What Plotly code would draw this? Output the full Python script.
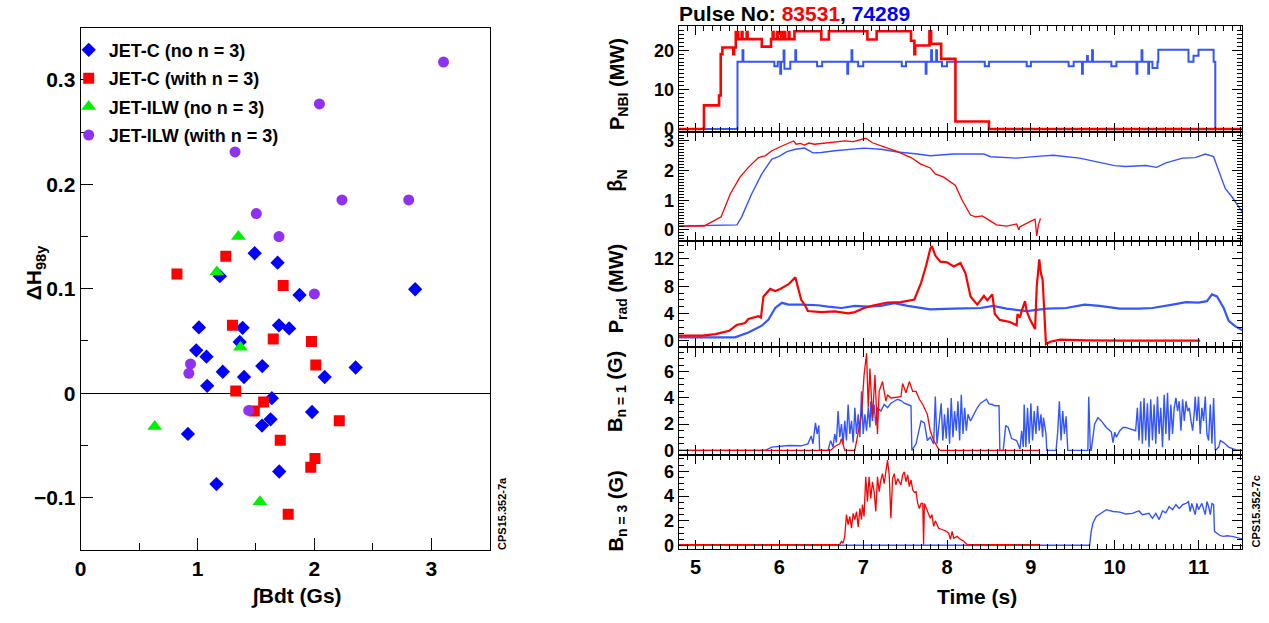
import plotly.graph_objects as go

W, H = 1269, 623

# ---------------- left panel: change of H98y against integrated field ----------------
jetc_no_x = [2.862, 1.489, 1.685, 1.873, 1.191, 1.012, 1.386, 1.697, 1.784, 1.361, 0.989, 1.077, 1.554,
             2.353, 1.216, 1.398, 2.088, 1.083, 1.636, 1.980, 1.625, 1.552, 0.918, 1.699, 1.162]
jetc_no_y = [0.0995, 0.134, 0.125, 0.094, 0.112, 0.063, 0.0626, 0.065, 0.062, 0.049, 0.041, 0.035, 0.026,
             0.0246, 0.0205, 0.0155, 0.0155, 0.007, -0.0048, -0.018, -0.025, -0.031, -0.039, -0.075, -0.087]

jetc_n3_x = [0.824, 1.242, 1.733, 1.299, 1.648, 1.975, 2.012, 1.327, 1.566, 1.486, 2.213, 1.708, 2.005, 1.969, 1.776]
jetc_n3_y = [0.114, 0.131, 0.103, 0.065, 0.052, 0.0496, 0.027, 0.002, -0.0085, -0.017, -0.0265, -0.045, -0.0626,
             -0.071, -0.116]

ilw_no_x = [1.350, 1.165, 1.367, 0.634, 1.534]
ilw_no_y = [0.150, 0.116, 0.044, -0.032, -0.104]

ilw_n3_x = [3.105, 2.043, 1.321, 2.236, 2.807, 1.503, 1.697, 2.000, 0.940, 0.926, 1.438]
ilw_n3_y = [0.317, 0.277, 0.231, 0.185, 0.185, 0.172, 0.150, 0.095, 0.028, 0.019, -0.0165]

# ---------------- right panels: time traces for pulses 83531 (red) and 74289 (blue) ----------------
# NBI power, step signals: (time, value from that time on)
nbi_83531 = [(4.80, 0.0), (5.10, 6.0), (5.28, 8.5), (5.30, 19.0), (5.32, 20.7), (5.45, 19.0), (5.46, 20.7),
             (5.48, 24.6), (5.51, 22.8), (5.55, 24.6), (5.56, 22.8), (5.61, 24.6), (5.62, 22.8), (5.79, 20.9),
             (5.90, 22.8), (5.92, 24.6), (5.93, 22.8), (5.97, 24.6), (5.98, 22.8), (6.02, 24.6), (6.03, 22.8),
             (6.06, 24.6), (6.07, 22.8), (6.11, 24.6), (6.12, 22.8), (6.18, 24.8), (6.50, 22.7), (6.59, 24.8),
             (7.05, 22.7), (7.16, 24.8), (7.57, 22.4), (7.61, 19.0), (7.62, 21.2), (7.79, 24.8), (7.81, 21.6),
             (7.93, 17.8), (8.10, 1.9), (8.50, 0.0), (11.52, 0.0)]
nbi_74289 = [(4.80, 0.0), (5.50, 17.1), (5.56, 20.0), (5.57, 17.1), (5.94, 15.9), (5.98, 17.1), (6.01, 14.0),
             (6.02, 17.1), (6.05, 19.9), (6.06, 15.3), (6.13, 17.1), (6.19, 20.0), (6.20, 17.1), (6.45, 15.9),
             (6.51, 17.1), (6.81, 14.0), (6.82, 17.1), (6.86, 20.0), (6.87, 17.1), (6.94, 15.9), (7.00, 17.1),
             (7.46, 15.9), (7.51, 17.1), (7.745, 14.0), (7.755, 17.1), (7.81, 20.0), (7.82, 17.1), (7.87, 20.0),
             (7.88, 17.1), (7.94, 15.9), (8.00, 17.1), (8.45, 15.9), (8.50, 17.1), (8.95, 15.9), (9.00, 17.1),
             (9.45, 15.9), (9.51, 17.1), (9.61, 14.0), (9.62, 17.1), (9.67, 18.5), (9.68, 17.1), (9.73, 20.0),
             (9.74, 17.1), (9.96, 15.9), (10.02, 17.1), (10.26, 14.0), (10.27, 17.1), (10.32, 20.0), (10.33, 17.1),
             (10.40, 14.0), (10.41, 17.1), (10.45, 15.5), (10.51, 17.1), (10.52, 20.1), (10.88, 17.1),
             (10.94, 18.6), (11.00, 20.1), (11.18, 17.1), (11.20, 0.0), (11.52, 0.0)]

betan_83531 = [(4.80, 0.13), (5.10, 0.13), (5.20, 0.28), (5.305, 0.44), (5.415, 1.22), (5.53, 1.78), (5.63, 2.11),
               (5.75, 2.44), (5.83, 2.50), (5.91, 2.67), (6.03, 2.83), (6.17, 3.00), (6.20, 2.89), (6.25, 2.92),
               (6.30, 2.86), (6.35, 2.93), (6.42, 2.89), (6.50, 2.91), (6.58, 2.94), (6.68, 2.97), (6.78, 3.00),
               (6.88, 2.98), (6.94, 3.02), (7.03, 3.09), (7.11, 2.94), (7.25, 2.80), (7.41, 2.64), (7.57, 2.44),
               (7.686, 2.22), (7.80, 2.09), (7.86, 1.89), (7.96, 1.78), (8.06, 1.56), (8.10, 1.50), (8.18, 1.00),
               (8.28, 0.50), (8.34, 0.44), (8.42, 0.47), (8.50, 0.33), (8.59, 0.17), (8.71, 0.13), (8.83, 0.20),
               (8.855, 0.00), (8.87, 0.11), (8.99, 0.28), (9.05, 0.36), (9.07, -0.20), (9.09, 0.17), (9.115, 0.39)]
betan_74289 = [(4.80, 0.13), (5.40, 0.15), (5.494, 0.17), (5.55, 0.44), (5.67, 1.22), (5.79, 1.89), (5.91, 2.39),
               (5.99, 2.47), (6.09, 2.64), (6.19, 2.72), (6.30, 2.76), (6.40, 2.60), (6.50, 2.61), (6.66, 2.67),
               (6.82, 2.72), (7.01, 2.76), (7.21, 2.72), (7.41, 2.63), (7.65, 2.56), (7.80, 2.50), (8.08, 2.56),
               (8.44, 2.56), (8.52, 2.47), (8.83, 2.42), (9.11, 2.49), (9.27, 2.52), (9.58, 2.42), (9.82, 2.28),
               (10.00, 2.17), (10.13, 2.14), (10.37, 2.17), (10.50, 2.11), (10.61, 2.26), (10.81, 2.42),
               (10.96, 2.44), (11.08, 2.56), (11.18, 2.47), (11.24, 2.00), (11.32, 1.39), (11.40, 1.11),
               (11.52, 0.61)]

prad_83531 = [(4.80, 0.73), (5.08, 0.73), (5.24, 0.97), (5.40, 1.45), (5.49, 2.30), (5.59, 2.60), (5.63, 3.20),
              (5.75, 3.60), (5.78, 3.40), (5.81, 6.50), (5.89, 7.60), (5.95, 7.30), (6.01, 7.60), (6.11, 8.30),
              (6.19, 9.30), (6.22, 8.00), (6.26, 6.00), (6.30, 5.30), (6.34, 4.35), (6.50, 4.20), (6.66, 4.30),
              (6.82, 4.00), (6.90, 4.20), (7.01, 4.80), (7.13, 5.20), (7.29, 5.60), (7.45, 5.66), (7.61, 6.05),
              (7.69, 8.50), (7.75, 11.0), (7.80, 13.5), (7.82, 13.9), (7.86, 12.5), (7.92, 11.6), (8.00, 11.5),
              (8.08, 10.9), (8.16, 11.4), (8.22, 9.90), (8.28, 6.50), (8.36, 5.30), (8.44, 6.60), (8.48, 5.95),
              (8.54, 6.80), (8.57, 3.90), (8.63, 3.05), (8.75, 2.75), (8.83, 2.27), (8.84, 3.90), (8.87, 3.40),
              (8.89, 4.35), (8.93, 5.80), (8.95, 4.35), (8.99, 3.10), (9.05, 1.70), (9.07, 8.00), (9.10, 11.95),
              (9.12, 9.90), (9.14, 8.95), (9.18, -0.50), (9.23, -0.15), (9.35, 0.15), (9.66, 0.05), (10.06, 0.00),
              (11.02, 0.00)]
prad_74289 = [(4.80, 0.48), (5.47, 0.48), (5.63, 1.20), (5.79, 2.20), (5.87, 3.10), (5.95, 4.80), (6.03, 5.56),
              (6.11, 5.30), (6.26, 5.30), (6.46, 5.20), (6.58, 5.00), (6.74, 4.80), (6.90, 5.10), (7.05, 5.00),
              (7.21, 5.10), (7.37, 5.50), (7.53, 5.10), (7.69, 4.80), (7.80, 4.60), (8.08, 4.70), (8.40, 4.80),
              (8.55, 5.10), (8.71, 4.70), (8.95, 4.35), (9.19, 4.70), (9.42, 4.80), (9.64, 5.30), (9.82, 5.10),
              (10.06, 4.70), (10.29, 4.70), (10.45, 4.80), (10.69, 5.30), (10.85, 5.66), (11.00, 5.60),
              (11.10, 5.80), (11.16, 6.80), (11.22, 6.50), (11.30, 4.80), (11.36, 2.90), (11.44, 2.10),
              (11.52, 1.55)]

bn1_83531 = [(4.80, 0.0), (6.61, 0.0), (6.66, 0.3), (6.72, 0.5), (6.74, 0.9), (6.78, 0.0), (6.90, 0.0), (6.94, 1.25),
             (6.98, 2.75), (7.01, 5.75), (7.04, 7.4), (7.06, 3.25), (7.08, 6.25), (7.11, 2.5), (7.14, 5.75),
             (7.17, 1.25), (7.19, 4.5), (7.23, 5.25), (7.27, 3.75), (7.29, 4.25), (7.33, 4.0), (7.45, 4.1),
             (7.47, 5.1), (7.51, 4.4), (7.55, 5.25), (7.59, 4.5), (7.63, 4.5), (7.67, 3.9), (7.71, 3.5),
             (7.765, 2.75), (7.80, 1.5), (7.84, 0.75), (7.90, 0.1), (7.92, 0.0), (9.11, 0.0)]
bn1_74289 = [(4.80, 0.0), (5.83, 0.0), (5.91, 0.25), (5.99, 0.3), (6.11, 0.37), (6.26, 0.35), (6.34, 0.5), (6.38, 1.1),
             (6.40, 0.5), (6.43, 2.1), (6.45, 1.25), (6.47, 1.9), (6.48, 0.0), (6.58, 0.0), (6.61, 0.75), (6.64, 0.25),
             (6.66, 1.25), (6.68, 0.6), (6.70, 3.0), (6.72, 1.0), (6.74, 2.0), (6.76, 0.5), (6.78, 2.25), (6.80, 0.75),
             (6.82, 3.5), (6.84, 1.25), (6.86, 2.25), (6.88, 0.6), (6.90, 3.25), (6.92, 1.25), (6.94, 2.75),
             (6.96, 1.0), (6.98, 4.5), (7.00, 1.25), (7.02, 2.75), (7.04, 1.5), (7.06, 3.25), (7.08, 1.75),
             (7.09, 3.75), (7.11, 2.25), (7.13, 3.5), (7.15, 1.9), (7.17, 3.25), (7.21, 3.0), (7.25, 3.5),
             (7.29, 3.25), (7.33, 3.6), (7.37, 3.75), (7.41, 3.9), (7.45, 3.8), (7.49, 3.6), (7.53, 3.5), (7.57, 3.4),
             (7.58, 0.0), (7.63, 0.5), (7.69, 2.25), (7.73, 2.1), (7.765, 0.75), (7.80, 1.0), (7.84, 0.5),
             (7.86, 4.1), (7.88, 0.5), (7.90, 1.75), (7.93, 3.6), (7.95, 0.75), (7.97, 2.75), (7.99, 0.9),
             (8.01, 3.25), (8.03, 0.5), (8.05, 4.0), (8.07, 1.0), (8.09, 3.0), (8.11, 1.5), (8.13, 3.75), (8.15, 0.75),
             (8.17, 4.25), (8.19, 1.25), (8.21, 3.25), (8.23, 1.5), (8.25, 2.75), (8.28, 2.25), (8.32, 2.75),
             (8.36, 3.25), (8.40, 3.6), (8.44, 3.75), (8.47, 3.9), (8.50, 3.55), (8.54, 3.5), (8.57, 3.4),
             (8.62, 3.4), (8.63, 0.0), (8.67, 0.0), (8.70, 1.9), (8.73, 1.75), (8.77, 0.9), (8.83, 0.75), (8.87, 0.1),
             (8.89, 1.5), (8.91, 0.25), (8.92, 3.5), (8.94, 0.25), (8.96, 3.25), (8.98, 0.5), (9.00, 3.6),
             (9.02, 0.75), (9.04, 3.0), (9.06, 1.25), (9.08, 3.4), (9.10, 1.5), (9.12, 2.75), (9.14, 1.0),
             (9.15, 2.5), (9.18, 1.25), (9.19, 0.0), (9.30, 0.0), (9.32, 1.4), (9.34, 3.75), (9.36, 0.75),
             (9.38, 3.0), (9.40, 1.25), (9.42, 2.6), (9.44, 0.0), (9.68, 0.0), (9.69, 4.1), (9.71, 0.0), (9.72, 0.0),
             (9.76, 2.0), (9.80, 2.5), (9.84, 2.25), (9.90, 1.75), (9.96, 1.4), (9.98, 0.6), (10.00, 1.4),
             (10.02, 1.0), (10.06, 1.5), (10.10, 1.75), (10.13, 1.75), (10.19, 1.6), (10.25, 1.5), (10.27, 3.25),
             (10.29, 0.75), (10.31, 3.75), (10.33, 0.5), (10.35, 4.0), (10.37, 0.75), (10.39, 3.6), (10.41, 0.25),
             (10.43, 3.9), (10.45, 0.75), (10.47, 3.5), (10.49, 0.5), (10.51, 4.1), (10.53, 1.25), (10.55, 3.25),
             (10.57, 0.25), (10.59, 4.25), (10.61, 1.25), (10.63, 4.4), (10.65, 0.75), (10.67, 3.5), (10.69, 1.25),
             (10.71, 3.25), (10.73, 4.0), (10.75, 3.0), (10.77, 3.75), (10.79, 1.5), (10.81, 3.9), (10.83, 2.25),
             (10.85, 3.75), (10.87, 3.0), (10.89, 3.25), (10.91, 2.25), (10.93, 1.5), (10.95, 3.0), (10.96, 4.1),
             (10.98, 2.25), (11.00, 4.1), (11.02, 1.25), (11.04, 3.25), (11.06, 2.25), (11.08, 4.1), (11.10, 1.25),
             (11.12, 0.75), (11.14, 3.5), (11.16, 0.5), (11.18, 4.0), (11.20, 0.0), (11.24, 0.25), (11.26, 0.75),
             (11.30, 0.6), (11.36, 0.25), (11.44, 0.05), (11.52, 0.0)]

bn3_83531 = [(4.80, 0.08), (6.72, 0.08), (6.74, 0.35), (6.76, 0.2), (6.78, 0.75), (6.80, 2.5), (6.82, 1.7),
             (6.84, 2.35), (6.86, 1.4), (6.88, 2.6), (6.90, 2.1), (6.92, 2.75), (6.94, 1.5), (6.96, 3.0), (6.98, 2.1),
             (6.99, 3.3), (7.01, 2.35), (7.03, 5.55), (7.05, 3.55), (7.07, 5.55), (7.09, 3.8), (7.11, 5.15),
             (7.13, 4.35), (7.15, 2.75), (7.17, 5.55), (7.19, 4.35), (7.21, 5.3), (7.23, 5.8), (7.25, 5.0),
             (7.27, 5.95), (7.29, 6.9), (7.31, 5.7), (7.33, 2.2), (7.35, 5.4), (7.37, 5.8), (7.39, 4.9), (7.41, 5.4),
             (7.43, 5.15), (7.45, 4.9), (7.47, 5.7), (7.49, 5.95), (7.51, 5.15), (7.53, 5.7), (7.55, 4.75),
             (7.57, 5.3), (7.59, 4.5), (7.61, 4.3), (7.63, 4.35), (7.65, 3.4), (7.67, 3.0), (7.69, 3.4), (7.71, 3.4),
             (7.72, 0.08), (7.73, 3.4), (7.765, 2.75), (7.80, 2.2), (7.82, 2.5), (7.84, 1.55), (7.86, 2.0),
             (7.90, 1.4), (7.94, 1.3), (7.98, 1.2), (8.02, 1.0), (8.04, 0.5), (8.06, 1.15), (8.08, 0.6), (8.12, 0.75),
             (8.16, 0.5), (8.20, 0.35), (8.24, 0.08), (9.11, 0.08)]
bn3_74289 = [(4.80, 0.03), (9.70, 0.03), (9.72, 1.15), (9.74, 1.8), (9.78, 2.35), (9.84, 2.6), (9.90, 2.9),
             (9.98, 2.75), (10.06, 2.7), (10.13, 2.55), (10.21, 2.6), (10.29, 2.8), (10.33, 2.5), (10.41, 2.6),
             (10.45, 2.2), (10.49, 2.6), (10.53, 2.1), (10.57, 2.8), (10.61, 2.65), (10.65, 3.15), (10.69, 2.9),
             (10.73, 3.3), (10.77, 3.0), (10.81, 3.3), (10.85, 3.4), (10.88, 3.55), (10.90, 2.75), (10.92, 3.4),
             (10.96, 2.5), (10.98, 3.4), (11.00, 2.9), (11.04, 3.4), (11.08, 2.5), (11.10, 3.55), (11.12, 3.15),
             (11.14, 2.5), (11.16, 3.4), (11.18, 3.3), (11.19, 1.15), (11.22, 1.0), (11.26, 0.8), (11.30, 0.75),
             (11.34, 0.8), (11.40, 0.75), (11.46, 0.65), (11.52, 0.55)]

RED = "#ff0000"
BLUE_TRACE = "#3355ff"
FONT = "Liberation Sans, Arial, Helvetica, sans-serif"


def split(pairs):
    return [p[0] for p in pairs], [p[1] for p in pairs]


def px_x(p):
    return p / W


def px_y(p):
    return 1 - p / H


fig = go.Figure()

# scatter markers
fig.add_trace(go.Scatter(x=jetc_no_x, y=jetc_no_y, mode="markers", name="JET-C (no n = 3)",
                         legendgroup="g1", xaxis="x", yaxis="y",
                         marker=dict(symbol="diamond", size=11, color="#0000ff")))
fig.add_trace(go.Scatter(x=jetc_n3_x, y=jetc_n3_y, mode="markers", name="JET-C (with n = 3)",
                         legendgroup="g2", xaxis="x", yaxis="y",
                         marker=dict(symbol="square", size=11, color="#ff0000")))
fig.add_trace(go.Scatter(x=ilw_no_x, y=ilw_no_y, mode="markers", name="JET-ILW (no n = 3)",
                         legendgroup="g3", xaxis="x", yaxis="y",
                         marker=dict(symbol="triangle-up", size=13, color="#00ee00")))
fig.add_trace(go.Scatter(x=ilw_n3_x, y=ilw_n3_y, mode="markers", name="JET-ILW (with n = 3)",
                         legendgroup="g4", xaxis="x", yaxis="y",
                         marker=dict(symbol="circle", size=11, color="#9030f0")))

# time traces, one panel each
panels = [
    (2, nbi_83531, nbi_74289, "hv", 2.6, 2.0),
    (3, betan_83531, betan_74289, "linear", 1.3, 1.4),
    (4, prad_83531, prad_74289, "linear", 2.2, 2.2),
    (5, bn1_83531, bn1_74289, "linear", 1.3, 1.4),
    (6, bn3_83531, bn3_74289, "linear", 1.3, 1.4),
]
for k, red, blue, shape, wr, wb in panels:
    bx, by = split(blue)
    rx, ry = split(red)
    fig.add_trace(go.Scatter(x=bx, y=by, mode="lines", line=dict(color=BLUE_TRACE, width=wb, shape=shape),
                             xaxis=f"x{k}", yaxis=f"y{k}", showlegend=False, hoverinfo="skip"))
    fig.add_trace(go.Scatter(x=rx, y=ry, mode="lines", line=dict(color=RED, width=wr, shape=shape),
                             xaxis=f"x{k}", yaxis=f"y{k}", showlegend=False, hoverinfo="skip"))

TICKFONT_L = dict(family=FONT, size=21, color="black", weight="bold")
TICKFONT_R = dict(family=FONT, size=18, color="black", weight="bold")
TICKFONT_T = dict(family=FONT, size=20, color="black", weight="bold")

base = dict(showline=True, linecolor="black", linewidth=1.2, ticks="inside", tickcolor="black",
            tickwidth=1, showgrid=False, zeroline=False)

layout = dict(
    width=W, height=H, margin=dict(l=0, r=0, t=0, b=0),
    paper_bgcolor="white", plot_bgcolor="white",
    font=dict(family=FONT, color="black"),
    showlegend=True,
    legend=dict(x=px_x(63), y=px_y(32), xanchor="left", yanchor="top", bgcolor="rgba(0,0,0,0)",
                font=dict(family=FONT, size=18, color="black", weight="bold"),
                traceorder="grouped", tracegroupgap=2, itemsizing="trace"),
    xaxis=dict(base, domain=[px_x(75), px_x(486)], range=[0, 3.5], anchor="y", dtick=1, tick0=0, ticklen=12,
               mirror=True, tickfont=TICKFONT_L,
               minor=dict(dtick=0.5, ticklen=7, ticks="inside", tickcolor="black")),
    yaxis=dict(base, domain=[px_y(557), px_y(28)], range=[-0.15, 0.35], anchor="x", dtick=0.1, tick0=0,
               ticklen=12, mirror=True, tickfont=TICKFONT_L,
               minor=dict(dtick=0.05, ticklen=7, ticks="inside", tickcolor="black"),
               zeroline=True, zerolinecolor="black", zerolinewidth=1.2),
)

# vertical extents of the five stacked panels (pixels from top)
bounds = {2: (26.5, 133.5), 3: (133.5, 244.0), 4: (244.0, 352.0), 5: (352.0, 460.5), 6: (460.5, 556.0)}
yranges = {2: [-0.7, 26.1], 3: [-0.37, 3.31], 4: [-1.0, 14.66], 5: [-0.32, 7.85], 6: [-0.26, 7.34]}
ydt = {2: (10, 1), 3: (1, 0.1), 4: (4, 1), 5: (2, 0.5), 6: (2, 0.5)}

for k in range(2, 7):
    top, bot = bounds[k]
    layout[f"xaxis{k}"] = dict(base, domain=[px_x(676), px_x(1242)], range=[4.8, 11.52], anchor=f"y{k}",
                               dtick=1, tick0=0, ticklen=9, mirror="ticks", showticklabels=(k == 6),
                               tickfont=TICKFONT_T,
                               minor=dict(dtick=0.1, ticklen=5, ticks="inside", tickcolor="black"))
    major, minor = ydt[k]
    layout[f"yaxis{k}"] = dict(base, domain=[px_y(bot), px_y(top)], range=yranges[k], anchor=f"x{k}",
                               dtick=major, tick0=0, ticklen=10, mirror="ticks", tickfont=TICKFONT_R,
                               minor=dict(dtick=minor, ticklen=5, ticks="inside", tickcolor="black"))

fig.update_layout(**layout)


def label(text, xpix, ypix, size=20, angle=0, xanchor="center", yanchor="middle"):
    fig.add_annotation(text=text, x=px_x(xpix), y=px_y(ypix), xref="paper", yref="paper",
                       showarrow=False, textangle=angle, xanchor=xanchor, yanchor=yanchor,
                       font=dict(family=FONT, size=size, color="black", weight="bold"))


label("ΔH<sub>98y</sub>", 30, 276, size=21, angle=-90)
label("∫Bdt (Gs)", 292, 604, size=21)
label("CPS15.352-7a", 499, 520, size=11, angle=-90)

label("Pulse No: <span style='color:#ff0000'>83531</span>, <span style='color:#0000ff'>74289</span>",
      674, 14, size=21, xanchor="left")
label("P<sub>NBI</sub> (MW)", 616, 85, size=20, angle=-90)
label("β<sub>N</sub>", 614, 183, size=20, angle=-90)
label("P<sub>rad</sub> (MW)", 614, 292, size=20, angle=-90)
label("B<sub>n = 1</sub> (G)", 614, 397, size=20, angle=-90)
label("B<sub>n = 3</sub> (G)", 614, 518, size=20, angle=-90)
label("Time (s)", 976, 604, size=21)
label("CPS15.352-7c", 1256, 518, size=11, angle=-90)

fig.write_html("out.html")
